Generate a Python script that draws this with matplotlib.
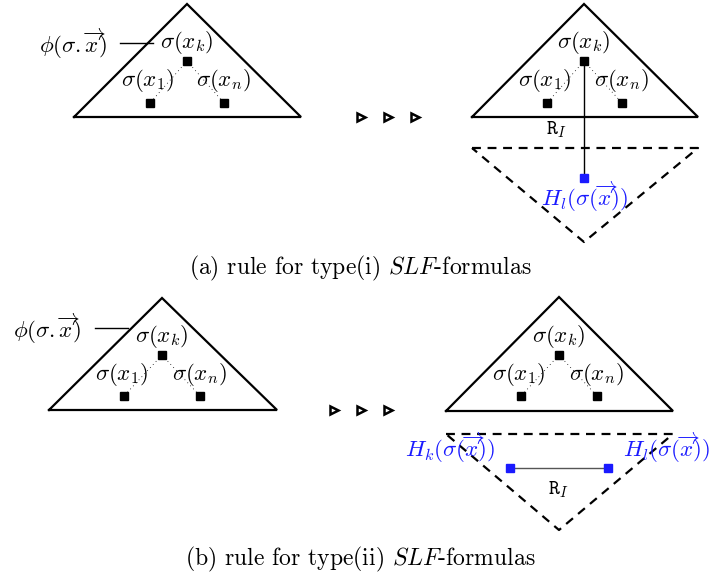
import matplotlib
matplotlib.use("Agg")
import matplotlib.pyplot as plt

plt.rcParams['mathtext.fontset'] = 'cm'
plt.rcParams['font.family'] = ['cmr10', 'DejaVu Serif']
plt.rcParams['axes.formatter.use_mathtext'] = True

W, H = 713, 585

# triangles: (apex_x, apex_y, left_x, right_x, base_y)  in pixel coords
tri_solid = [(187, 4, 74, 301, 117), (584, 4, 472, 698, 117),
             (162, 298, 49, 277, 410), (559, 297, 446, 673, 411)]
tri_dashed = [(584, 242, 472, 698, 148), (559, 530, 446, 673, 434)]

# node squares for each solid triangle: (k, 1, n)
nodes_k = [(187, 61), (584, 61), (162, 355), (559, 355)]
nodes_1 = [(150, 103), (547, 103), (124, 396), (521, 396)]
nodes_n = [(224, 103), (622, 103), (200, 396), (597, 396)]

lab_k = r'$\sigma(x_k)$'
lab_1 = r'$\sigma(x_1)$'
lab_n = r'$\sigma(x_n)$'
phi_lab = r'$\phi(\sigma.\overrightarrow{x})$'
phi_pos = [(73, 44), (47, 329)]
phi_line = [((120, 153), 43), ((95, 128), 328)]

arrows_y = [117, 410]
arrows_x = [[361, 388, 415], [334, 361, 388]]

captions = ['(a) rule for type(i) $SLF$-formulas',
            '(b) rule for type(ii) $SLF$-formulas']
cap_pos = [(360, 268), (360, 559)]

blue = '#1a1aff'

fig = plt.figure(figsize=(W / 100, H / 100), dpi=100)
ax = fig.add_axes([0, 0, 1, 1])
ax.set_xlim(0, W)
ax.set_ylim(H, 0)
ax.axis('off')

for (ax_, ay, lx, rx, by) in tri_solid:
    ax.plot([lx, ax_, rx, lx], [by, ay, by, by], color='black', lw=1.6,
            solid_joinstyle='miter', zorder=2)
for (ax_, ay, lx, rx, by) in tri_dashed:
    ax.plot([lx, rx, ax_, lx], [by, by, ay, by], color='black', lw=1.6,
            ls=(0, (4, 3)), zorder=2)

fs = 16.5
for i in range(4):
    kx, ky = nodes_k[i]
    x1, y1 = nodes_1[i]
    xn, yn = nodes_n[i]
    ax.plot([kx, x1], [ky, y1], color='black', lw=0.6, ls=(0, (1, 4)), zorder=2)
    ax.plot([kx, xn], [ky, yn], color='black', lw=0.6, ls=(0, (1, 4)), zorder=2)
    ax.plot([kx, x1, xn], [ky, y1, yn], ls='none', marker='s', ms=6,
            color='black', zorder=4)
    ax.text(kx, ky - 18, lab_k, ha='center', va='center', fontsize=fs)
    ax.text(x1 - 2, y1 - 22, lab_1, ha='center', va='center', fontsize=fs)
    ax.text(xn - 1, yn - 22, lab_n, ha='center', va='center', fontsize=fs)

for i in range(2):
    ax.text(phi_pos[i][0], phi_pos[i][1], phi_lab, ha='center', va='center',
            fontsize=fs)
    (xa, xb), yl = phi_line[i]
    ax.plot([xa, xb], [yl, yl], color='black', lw=1.0)
    ax.plot(arrows_x[i], [arrows_y[i]] * 3, ls='none', marker='>', ms=6,
            mfc='white', mec='black', mew=1.8)
    ax.text(cap_pos[i][0], cap_pos[i][1], captions[i], ha='center',
            va='center', fontsize=17)

# panel (a): R_I edge down to H_l
ax.plot([584, 584], [61, 178], color='black', lw=1.0, zorder=3)
ax.plot([584], [178], ls='none', marker='s', ms=6, color=blue, zorder=4)
ax.text(557, 130, r'$\mathtt{R}_I$', ha='center', va='center', fontsize=15)
ax.text(584, 197, r'$H_l(\sigma(\overrightarrow{x}))$', ha='center',
        va='center', fontsize=fs, color=blue)

# panel (b): R_I edge between H_k and H_l
ax.plot([510, 608], [468, 468], color='#555555', lw=1.0, zorder=3)
ax.plot([510, 608], [468, 468], ls='none', marker='s', ms=6, color=blue,
        zorder=4)
ax.text(559, 490, r'$\mathtt{R}_I$', ha='center', va='center', fontsize=15)
ax.text(450, 448, r'$H_k(\sigma(\overrightarrow{x}))$', ha='center',
        va='center', fontsize=fs, color=blue)
ax.text(666, 448, r'$H_l(\sigma(\overrightarrow{x}))$', ha='center',
        va='center', fontsize=fs, color=blue)

fig.savefig('out.png', dpi=100)
